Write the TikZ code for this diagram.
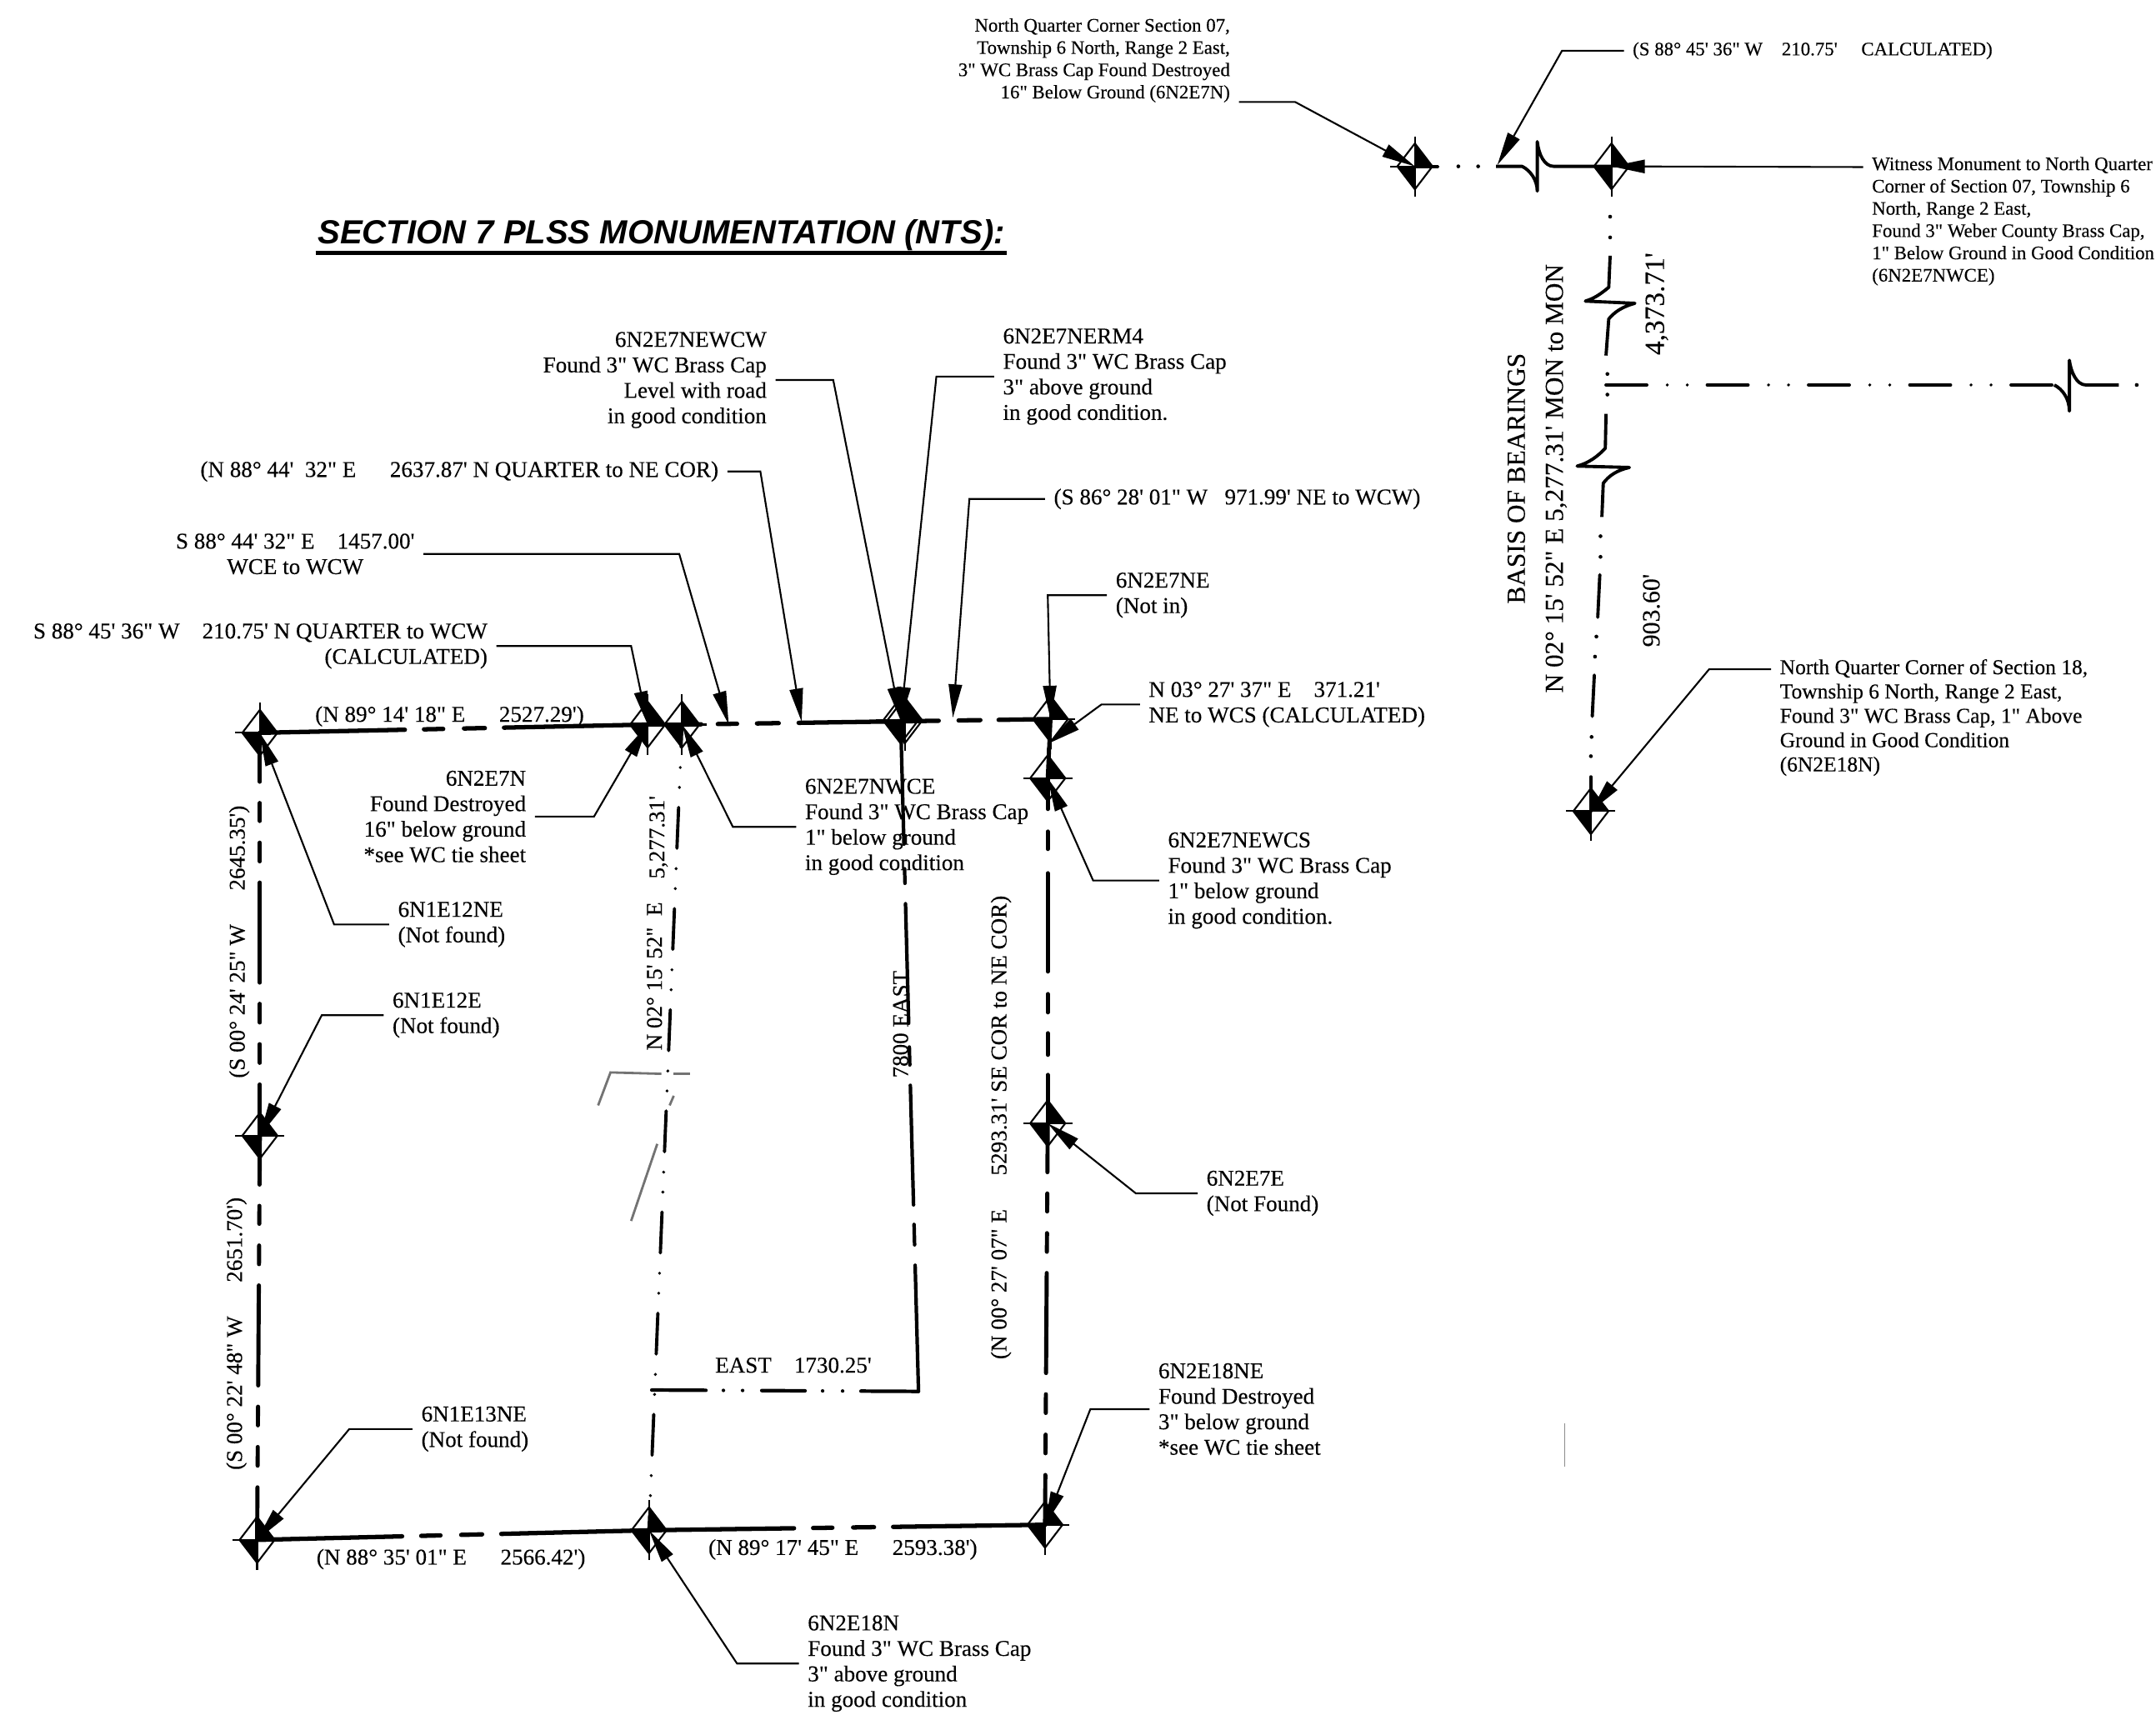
\documentclass[tikz,border=0pt]{standalone}
\usepackage{fontspec}
\usetikzlibrary{shapes.geometric, arrows.meta}
\newfontfamily\lab[FakeBold=0.2]{Liberation Serif}
\newfontfamily\ttl{Liberation Sans}
\tikzset{
  lbl/.style={font=\lab\fontsize{7.7}{8.7}\selectfont, inner sep=1mm},
  lbll/.style={lbl, anchor=west, align=left, yshift=-.15mm},
  lblr/.style={lbl, anchor=east, align=right, yshift=-.15mm},
  smlbl/.style={lbll, font=\lab\fontsize{6.5}{7.6}\selectfont},
  smlblr/.style={lblr, font=\lab\fontsize{6.5}{7.6}\selectfont},
  midlbl/.style={lbll, font=\lab\fontsize{7.25}{8.3}\selectfont},
  rot/.style={lbl, rotate=90},
  montick/.style={draw, line width=.6pt},
  mon/.style={diamond, draw, line width=.6pt, inner sep=0pt, minimum width=4.3mm, minimum height=5.6mm,
    path picture={
      \fill (path picture bounding box.center) rectangle (path picture bounding box.north east);
      \fill (path picture bounding box.center) rectangle (path picture bounding box.south west);
    },
    append after command={
      ([xshift=-.7mm]\tikzlastnode.west) edge[montick] ([xshift=.7mm]\tikzlastnode.east)
      ([yshift=.7mm]\tikzlastnode.north) edge[montick] ([yshift=-.7mm]\tikzlastnode.south)
    }},
  lead/.style={draw, line width=.6pt, -{Triangle[length=4mm, width=1.6mm]}},
  horz/.style={line width=1.5pt, line cap=round,
    dash pattern=on 17.4mm off 2.3mm on 2.3mm off 2.5mm on 2.5mm off 2.3mm on 20mm off 5mm},
  vert/.style={line width=1.4pt, line cap=round,
    dash pattern=on 5.87mm off 2.55mm on 2.16mm off 2.6mm on 2.24mm off 2.55mm on 12mm off 2.55mm on 2.24mm off 2.6mm on 2.24mm off 2.6mm on 8mm off 5mm},
  ddot/.style={line width=1.1pt, line cap=round,
    dash pattern=on 4.9mm off 2.45mm on 0mm off 2.4mm on 0mm off 2.4mm},
  brk/.style={line width=1.1pt, line join=round},
  smudge/.style={draw=black!55, line width=.8pt}
}

\begin{document}
\begin{tikzpicture}[x=.165mm, y=-.165mm]
	\useasboundingbox (0,0) rectangle (1568,1247);

	\node[mon] (ntwo) at (189,533) {};
	\node[mon] (nwcw) at (471,527) {};
	\node[mon] (wcws) at (496,527) {};
	\node[mon] (nwce) at (655,524) {};
	\node[mon] (nwcd) at (658,524) {};
	\node[mon] (nene) at (764,523) {};
	\node[mon] (ncws) at (762,566) {};
	\node[mon] (neee) at (762,817) {};
	\node[mon] (ntwe) at (189,826) {};
	\node[mon] (nthr) at (187,1120) {};
	\node[mon] (ntei) at (472,1113) {};
	\node[mon] (nein) at (760,1109) {};
	\node[mon] (qsev) at (1029,121) {};
	\node[mon] (qwit) at (1172,121) {};
	\node[mon] (qeig) at (1157,590) {};

	\coordinate (eastend) at (668,1012);
	\coordinate (eastwest) at (474,1011);

	\draw[horz] (ntwo.center) -- (nwcw.center);
	\draw[line width=1.5pt] (nwcw.center) -- (wcws.center);
	\draw[line width=1.5pt, line cap=round, dash pattern=on 2.3mm off 2mm on 2.3mm off 2.4mm on 2.6mm off 2.4mm on 16.8mm off 2.4mm on 2.6mm off 2.2mm on 10mm off 5mm] (wcws.center) -- (nene.center);
	\draw[horz] (nthr.center) -- (ntei.center);
	\draw[horz] (ntei.center) -- (nein.center);
	\draw[vert] (ntwo.center) -- (ntwe.center);
	\draw[vert] (ntwe.center) -- (nthr.center);
	\draw[vert] (neee.center) -- (nein.center);
	\draw[line width=1.4pt] (nene.center) -- (ncws.center);
	\draw[line width=1.4pt, line cap=round, dash pattern=on 3.7mm off 2.7mm on 2.1mm off 2.9mm on 11.8mm off 2.7mm on 2.2mm off 2.5mm on 2.6mm off 2.4mm on 9mm off 5mm] (ncws.center) -- (neee.center);
	\draw[ddot, dash phase=2.2mm] (wcws.center) -- (ntei.center);
	\draw[line width=1.2pt, line cap=round, dash pattern=on 14.85mm off 2.95mm on 1.75mm off 2.45mm on 14.35mm off 2.85mm on 2.15mm off 2.45mm on 14.35mm off 2.35mm on 2.45mm off 2.45mm on 20mm off 5mm] (nwce.center) -- (eastend);
	\draw[line width=1.2pt, line cap=round, dash pattern=on 6.5mm off 2.1mm on 0mm off 2.3mm on 0mm off 2.3mm on 5.2mm off 2.1mm on 0mm off 2.4mm on 0mm off 2.2mm on 7mm off 5mm] (eastwest) -- (eastend);

	\draw[brk] (qsev.center) -- (1046,121);
	\draw[brk] (1088,121) -- (1107,121) .. controls (1113,124) and (1118,131) .. (1118,139) -- (1118,103) .. controls (1119,112) and (1123,121) .. (1130,121) -- (qwit.center);
	\draw[brk] (1171,186) -- (1170,209) .. controls (1165,213) and (1160,217) .. (1153,219) -- (1189,220.6) .. controls (1180,223) and (1174,227) .. (1170,232) -- (1168,258.6);
	\draw[brk] (1168,301) -- (1167.5,326) .. controls (1162,332) and (1155,337) .. (1147,339) -- (1185,340) .. controls (1176,342) and (1170,346) .. (1166,351.5) -- (1165,376);
	\draw[brk, line cap=round] (1163.5,418) -- (1162,449);
	\draw[brk, line cap=round] (1159.5,491) -- (1158,521);
	\draw[brk, line cap=round] (1157,565) -- (qeig.center);
	\draw[ddot] (1168,280) -- (1494,280);
	\draw[brk] (1494,280) .. controls (1500,283) and (1505,290) .. (1505,299) -- (1505,262) .. controls (1506,270) and (1510,280) .. (1517,280) -- (1541,280);
	\fill (1060.6,121) circle (1.4) (1075,121) circle (1.4)
		(1171,157.6) circle (1.4) (1171,172.7) circle (1.4)
		(1169,272) circle (1.4) (1169,287) circle (1.4)
		(1164,390) circle (1.4) (1164,405) circle (1.4)
		(1161,463) circle (1.4) (1160,477.6) circle (1.4)
		(1157.5,536) circle (1.4) (1157,550) circle (1.4)
		(1554,280) circle (1.4);

	\node[font=\ttl\bfseries\itshape\fontsize{11.4}{13}\selectfont, inner sep=.2mm] (title) at (481,171) {SECTION 7 PLSS MONUMENTATION (NTS):};
	\draw[line width=1.2pt] (title.south west) -- (title.south east);

	\node[lblr] (lbnwcw) at (564,275.5) {6N2E7NEWCW\\Found 3" WC Brass Cap\\Level with road\\in good condition};
	\node[lbll] (lbrmf) at (723,273) {6N2E7NERM4\\Found 3" WC Brass Cap\\3" above ground\\in good condition.};
	\node[lblr] (lbqne) at (529,342) {(N 88° 44'\ \ 32" E\quad\ \ 2637.87' N QUARTER to NE COR)};
	\node[lbll] (lbwcw) at (760,362) {(S 86° 28' 01" W\ \ \ 971.99' NE to WCW)};
	\node[lblr, align=center] (lbwce) at (308,402) {S 88° 44' 32" E\quad 1457.00'\\WCE to WCW};
	\node[lblr] (lbcalc) at (361,469) {S 88° 45' 36" W\quad 210.75' N QUARTER to WCW\\(CALCULATED)};
	\node[lbll] (lbne) at (805,432) {6N2E7NE\\(Not in)};
	\node[lbll] (lbwcs) at (829,511.5) {N 03° 27' 37" E\quad 371.21'\\NE to WCS (CALCULATED)};
	\node[lblr] (lbnn) at (389,593) {6N2E7N\\Found Destroyed\\16" below ground\\*see WC tie sheet};
	\node[lbll] (lbwce2) at (579,600.5) {6N2E7NWCE\\Found 3" WC Brass Cap\\1" below ground\\in good condition};
	\node[lbll] (lbncws) at (843,639.5) {6N2E7NEWCS\\Found 3" WC Brass Cap\\1" below ground\\in good condition.};
	\node[lbll] (lbtne) at (283,671.5) {6N1E12NE\\(Not found)};
	\node[lbll] (lbtwe) at (279,737.5) {6N1E12E\\(Not found)};
	\node[lbll] (lbeee) at (871,867) {6N2E7E\\(Not Found)};
	\node[lbll] (lbein) at (836,1024) {6N2E18NE\\Found Destroyed\\3" below ground\\*see WC tie sheet};
	\node[lbll] (lbthr) at (300,1038.5) {6N1E13NE\\(Not found)};
	\node[lbll] (lbtei) at (581,1209) {6N2E18N\\Found 3" WC Brass Cap\\3" above ground\\in good condition};

	\node[smlblr] (lbqsev) at (901,43) {North Quarter Corner Section 07,\\Township 6 North, Range 2 East,\\3" WC Brass Cap Found Destroyed\\16" Below Ground (6N2E7N)};
	\node[smlbl] (lbcalcb) at (1181,36) {(S 88° 45' 36" W\quad 210.75'\quad\ CALCULATED)};
	\node[smlbl] (lbwit) at (1355,160) {Witness Monument to North Quarter\\Corner of Section 07, Township 6\\North, Range 2 East,\\Found 3" Weber County Brass Cap,\\1" Below Ground in Good Condition\\(6N2E7NWCE)};
	\node[midlbl] (lbqeig) at (1288,521) {North Quarter Corner of Section 18,\\Township 6 North, Range 2 East,\\Found 3" WC Brass Cap, 1" Above\\Ground in Good Condition\\(6N2E18N)};

	\node[lbl] (lbtop) at (327,521) {(N 89° 14' 18" E\quad\ \ 2527.29')};
	\node[lbl] (lbbota) at (328,1134) {(N 88° 35' 01" E\quad\ \ 2566.42')};
	\node[lbl] (lbbotb) at (613,1127) {(N 89° 17' 45" E\quad\ \ 2593.38')};
	\node[lbl] (lbeast) at (577,993) {EAST\quad 1730.25'};
	\node[rot] (lbleft) at (174,685) {(S 00° 24' 25" W\quad\ \ 2645.35')};
	\node[rot] (lbleftb) at (172,970) {(S 00° 22' 48" W\quad\ \ 2651.70')};
	\node[rot] (lbnoa) at (476,710) {N 02° 15' 52"\ \ E};
	\node[rot] (lbnob) at (479,609) {5,277.31'};
	\node[rot] (lbseven) at (655,745) {7800 EAST};
	\node[rot] (lbright) at (728,820) {(N 00° 27' 07" E\quad\ \ 5293.31' SE COR to NE COR)};
	\node[rot, font=\lab\fontsize{8.9}{13}\selectfont, align=center] (lbbasis) at (1118,348) {BASIS OF BEARINGS\\N 02° 15' 52" E 5,277.31' MON to MON};
	\node[rot, font=\lab\fontsize{9.5}{11}\selectfont] (lbfour) at (1205,221) {4,373.71'};
	\node[rot, font=\lab\fontsize{8.5}{10}\selectfont] (lbnine) at (1201,444) {903.60'};

	\coordinate (tipone) at (530,527);
	\coordinate (tiptwo) at (583,525);
	\coordinate (tipthr) at (693,522);
	\coordinate (tipfou) at (762,541);
	\coordinate (tipfiv) at (1089,120);

	\draw[lead] (lbnwcw.east) -- ++(42,0) -- (nwce.center);
	\draw[lead] (lbrmf.west) -- ++(-42,0) -- (nwce.center);
	\draw[lead] (lbqne.east) -- ++(24,0) -- (tiptwo);
	\draw[lead] (lbwcw.west) -- ++(-55,0) -- (tipthr);
	\draw[lead] (lbwce.east) -- ++(186,0) -- (tipone);
	\draw[lead] (lbcalc.east) -- ++(98,0) -- (nwcw.center);
	\draw[lead] (lbne.west) -- ++(-43,0) -- (nene.center);
	\draw[lead] (lbwcs.west) -- ++(-28,0) -- (tipfou);
	\draw[lead] (lbnn.east) -- ++(43,0) -- (nwcw.center);
	\draw[lead] (lbwce2.west) -- ++(-46,0) -- (wcws.center);
	\draw[lead] (lbncws.west) -- ++(-48,0) -- (ncws.center);
	\draw[lead] (lbtne.west) -- ++(-40,0) -- (ntwo.center);
	\draw[lead] (lbtwe.west) -- ++(-45,0) -- (ntwe.center);
	\draw[lead] (lbeee.west) -- ++(-45,0) -- (neee.center);
	\draw[lead] (lbein.west) -- ++(-43,0) -- (nein.center);
	\draw[lead] (lbthr.west) -- ++(-46,0) -- (nthr.center);
	\draw[lead] (lbtei.west) -- ++(-45,0) -- (ntei.center);
	\draw[lead] ([yshift=-5mm]lbqsev.east) -- ++(41,0) -- (qsev.center);
	\draw[lead] (lbcalcb.west) -- ++(-45,0) -- (tipfiv);
	\draw[lead] ([yshift=6.5mm]lbwit.west) -- (qwit.center);
	\draw[lead] ([yshift=5.8mm]lbqeig.west) -- ++(-45,0) -- (qeig.center);

	\draw[smudge] (435,804) -- (444,780) -- (481,781);
	\draw[smudge] (490,781) -- (502,781);
	\draw[smudge] (459,888) -- (478,832);
	\draw[smudge] (487,804) -- (490,797);
	\draw[draw=black!45, line width=.4pt] (1138,1035) -- (1138,1067);
\end{tikzpicture}
\end{document}
